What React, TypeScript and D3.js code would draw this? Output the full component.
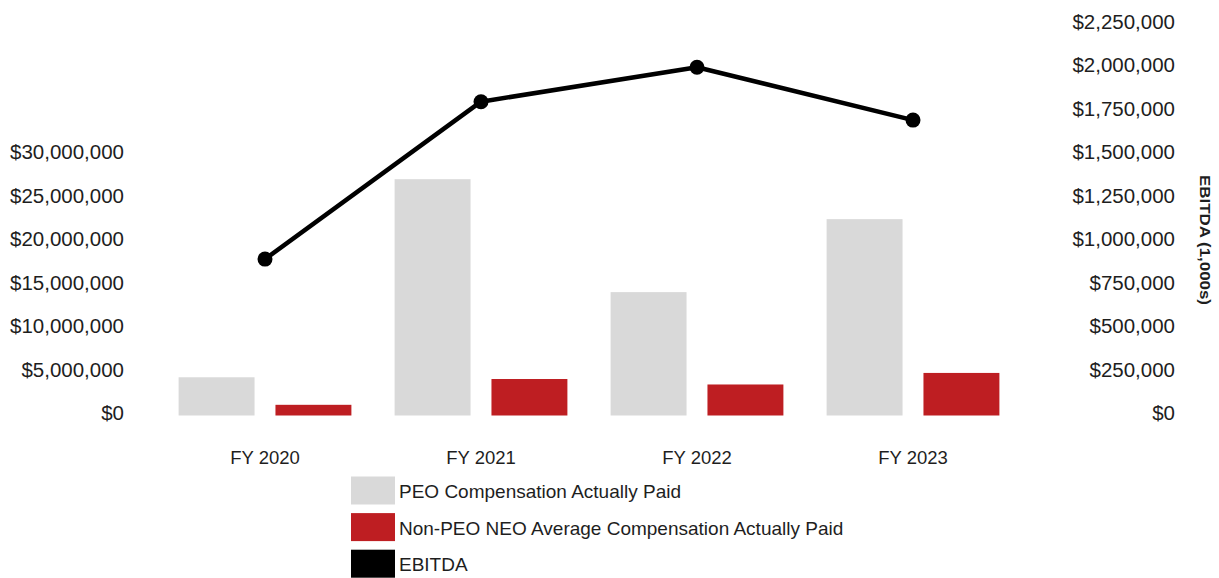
import React from "react";
import * as d3 from "d3";

const categories = ["FY 2020", "FY 2021", "FY 2022", "FY 2023"];
const peoCAP = [4400000, 27200000, 14200000, 22600000];
const neoCAP = [1230000, 4200000, 3570000, 4900000];
const ebitda = [900000, 1806000, 2004000, 1700000];
const leftTicks = [0, 5000000, 10000000, 15000000, 20000000, 25000000, 30000000];
const rightTicks = [0, 250000, 500000, 750000, 1000000, 1250000, 1500000, 1750000, 2000000, 2250000];
const seriesNames = ["PEO Compensation Actually Paid", "Non-PEO NEO Average Compensation Actually Paid", "EBITDA"];

const W = 1219;
const H = 578;
const GRAY = "#d9d9d9";
const RED = "#be1e22";
const BLACK = "#000000";
const TEXT = "#1e1e1e";
const FONT = "'Liberation Sans', Arial, sans-serif";

export default function App() {
  const y0 = 415.5;
  const step = 43.44;
  const yTop = y0 - 9 * step;

  const x0 = d3.scaleBand<string>().domain(categories).range([157, 1021]).paddingInner(0.2).paddingOuter(0.1);
  const x1 = d3.scaleBand<string>().domain(["peo", "neo"]).range([0, x0.bandwidth()]).paddingInner(0.216);
  const yL = d3.scaleLinear().domain([0, 45000000]).range([y0, yTop]);
  const yR = d3.scaleLinear().domain([0, 2250000]).range([y0, yTop]);

  const fmt = (v: number) => "$" + d3.format(",")(v);
  const cx = (c: string) => (x0(c) as number) + x0.bandwidth() / 2;

  const line = d3
    .line<number>()
    .x((_, i) => cx(categories[i]))
    .y((d) => yR(d));

  const legendColors = [GRAY, RED, BLACK];

  return (
    <svg width={W} height={H} style={{ position: "absolute", left: 0, top: 0, background: "#fff" }}>
      <g fontFamily={FONT} fill={TEXT}>
        {leftTicks.map((t) => (
          <text key={"l" + t} x={124} y={yL(t) - 3} textAnchor="end" dominantBaseline="central" fontSize={20.5}>
            {fmt(t)}
          </text>
        ))}
        {rightTicks.map((t) => (
          <text key={"r" + t} x={1175} y={yR(t) - 3} textAnchor="end" dominantBaseline="central" fontSize={20.5}>
            {fmt(t)}
          </text>
        ))}
        <text
          transform={`translate(1205,240) rotate(90)`}
          textAnchor="middle"
          dominantBaseline="central"
          fontSize={15}
          fontWeight="bold"
          textLength={130}
          lengthAdjust="spacingAndGlyphs"
        >
          EBITDA (1,000s)
        </text>
        {categories.map((c) => (
          <text key={c} x={cx(c)} y={457} textAnchor="middle" dominantBaseline="central" fontSize={18.5}>
            {c}
          </text>
        ))}
      </g>

      {categories.map((c, i) => (
        <g key={"bars" + c}>
          <rect
            x={(x0(c) as number) + (x1("peo") as number)}
            y={yL(peoCAP[i])}
            width={x1.bandwidth()}
            height={y0 - yL(peoCAP[i])}
            fill={GRAY}
          />
          <rect
            x={(x0(c) as number) + (x1("neo") as number)}
            y={yL(neoCAP[i])}
            width={x1.bandwidth()}
            height={y0 - yL(neoCAP[i])}
            fill={RED}
          />
        </g>
      ))}

      <path d={line(ebitda) || ""} fill="none" stroke={BLACK} strokeWidth={4.5} strokeLinejoin="round" />
      {ebitda.map((v, i) => (
        <circle key={"pt" + i} cx={cx(categories[i])} cy={yR(v)} r={7.5} fill={BLACK} />
      ))}

      <g fontFamily={FONT} fill={TEXT}>
        {seriesNames.map((s, i) => (
          <g key={s} transform={`translate(351,${476.5 + i * 36.6})`}>
            <rect x={0} y={0} width={44} height={28} fill={legendColors[i]} />
            <text x={48} y={15} dominantBaseline="central" fontSize={19}>
              {s}
            </text>
          </g>
        ))}
      </g>
    </svg>
  );
}
